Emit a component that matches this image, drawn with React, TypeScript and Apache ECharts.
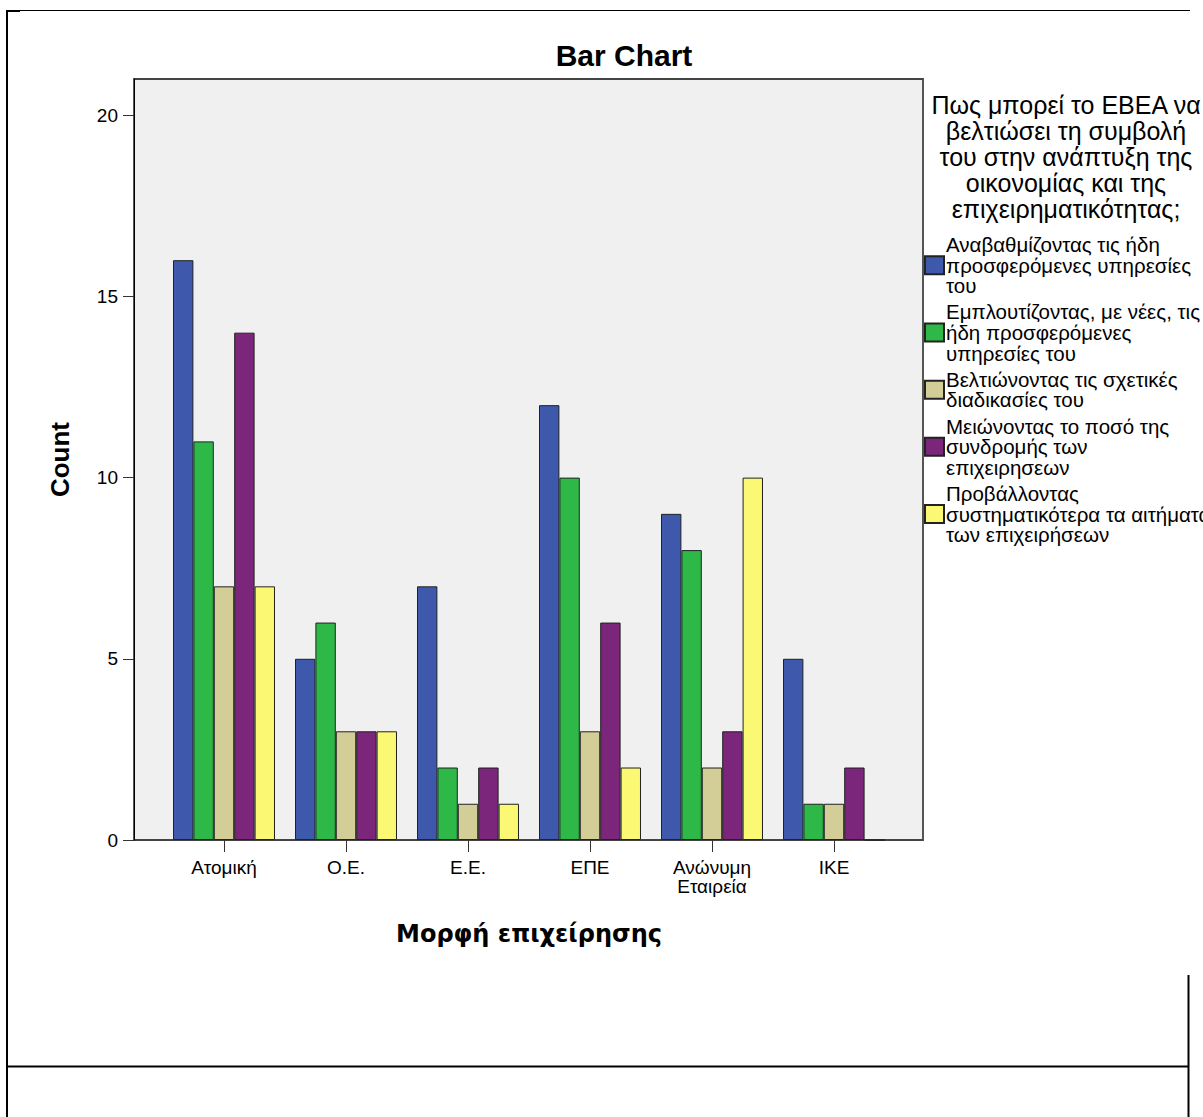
import React, { useEffect, useRef } from "react";
import * as echarts from "echarts";

const categories = ["Ατομική", "Ο.Ε.", "Ε.Ε.", "ΕΠΕ", "Ανώνυμη\nΕταιρεία", "ΙΚΕ"];

const seriesNames = [
  "Αναβαθμίζοντας τις ήδη προσφερόμενες υπηρεσίες του",
  "Εμπλουτίζοντας, με νέες, τις ήδη προσφερόμενες υπηρεσίες του",
  "Βελτιώνοντας τις σχετικές διαδικασίες του",
  "Μειώνοντας το ποσό της συνδρομής των επιχειρήσεων",
  "Προβάλλοντας συστηματικότερα τα αιτήματα των επιχειρήσεων",
];

const legendLabels = [
  "Αναβαθμίζοντας τις ήδη\nπροσφερόμενες υπηρεσίες\nτου",
  "Εμπλουτίζοντας, με νέες, τις\nήδη προσφερόμενες\nυπηρεσίες του",
  "Βελτιώνοντας τις σχετικές\nδιαδικασίες του",
  "Μειώνοντας το ποσό της\nσυνδρομής των\nεπιχειρησεων",
  "Προβάλλοντας\nσυστηματικότερα τα αιτήματα\nτων επιχειρήσεων",
];

const upgrading = [16, 5, 7, 12, 9, 5];
const enriching = [11, 6, 2, 10, 8, 1];
const improving = [7, 3, 1, 3, 2, 1];
const reducing = [14, 3, 2, 6, 3, 2];
const promoting = [7, 3, 1, 2, 10, 0];

const seriesValues = [upgrading, enriching, improving, reducing, promoting];
const seriesColors = ["#3e58ac", "#2eb848", "#d3ce97", "#7b267b", "#fbf873"];

const yTicks = [0, 5, 10, 15, 20];

const legendTitle =
  "Πως μπορεί το ΕΒΕΑ να\nβελτιώσει τη συμβολή\nτου στην ανάπτυξη της\nοικονομίας και της\nεπιχειρηματικότητας;";

const FONT = "'Liberation Sans', Arial, sans-serif";

export default function App() {
  const ref = useRef<HTMLDivElement>(null);

  useEffect(() => {
    if (!ref.current) return;
    const chart = echarts.init(ref.current, undefined, { renderer: "svg" });
    const labelMap: Record<string, string> = {};
    seriesNames.forEach((n, i) => (labelMap[n] = legendLabels[i]));

    chart.setOption({
      animation: false,
      backgroundColor: "#ffffff",
      textStyle: { fontFamily: FONT },
      title: {
        text: "Bar Chart",
        left: 619,
        top: 35,
        textAlign: "center",
        textStyle: { fontFamily: FONT, fontWeight: "bold", fontSize: 30, color: "#000" },
      },
      grid: {
        left: 163,
        top: 79,
        width: 732,
        height: 761,
      },
      legend: {
        orient: "vertical",
        left: 924,
        top: 234,
        padding: 0,
        itemWidth: 19,
        itemHeight: 18,
        itemGap: 5,
        icon: "rect",
        formatter: (name: string) => labelMap[name] || name,
        textStyle: { fontFamily: FONT, fontSize: 20.5, lineHeight: 20.7, color: "#000", padding: [0, 0, 0, -3] },
        data: seriesNames,
      },
      xAxis: {
        type: "category",
        data: categories,
        name: "Μορφή επιχείρησης",
        nameLocation: "middle",
        nameGap: 82,
        nameTextStyle: { fontFamily: "'DejaVu Sans', sans-serif", fontWeight: "bold", fontSize: 24, color: "#000" },
        axisLine: { show: false },
        axisTick: { show: true, alignWithLabel: true, length: 12, lineStyle: { color: "#333" } },
        axisLabel: { fontFamily: FONT, fontSize: 19, lineHeight: 19, color: "#000", margin: 18, interval: 0 },
      },
      yAxis: {
        type: "value",
        min: 0,
        max: 21,
        interval: 5,
        offset: 29,
        name: "Count",
        nameLocation: "middle",
        nameGap: 61,
        nameTextStyle: { fontFamily: FONT, fontWeight: "bold", fontSize: 26, color: "#000" },
        axisLine: { show: true, lineStyle: { color: "#000", width: 1 } },
        axisTick: { show: true, length: 11, customValues: yTicks, lineStyle: { color: "#333" } },
        axisLabel: { fontFamily: FONT, fontSize: 19, color: "#000", margin: 16, customValues: yTicks },
        splitLine: { show: false },
      },
      series: seriesNames.map((name, i) => ({
        name,
        type: "bar",
        data: seriesValues[i],
        barGap: "0%",
        barCategoryGap: "16.4%",
        itemStyle: { color: seriesColors[i], borderColor: "#222", borderWidth: 1 },
      })),
      graphic: [
        {
          type: "rect",
          z: -10,
          shape: { x: 134, y: 79, width: 789, height: 761 },
          style: { fill: "#f0f0f0", stroke: "#444", lineWidth: 1.8 },
        },
        {
          type: "text",
          x: 1066,
          y: 92,
          style: {
            text: legendTitle,
            x: 0,
            y: 0,
            textAlign: "center",
            textVerticalAlign: "top",
            fontFamily: FONT,
            fontSize: 25,
            lineHeight: 26,
            fill: "#000",
          },
        },
        { type: "line", shape: { x1: 6, y1: 10.5, x2: 1190, y2: 10.5 }, style: { stroke: "#000", lineWidth: 1 } },
        { type: "line", shape: { x1: 6, y1: 11, x2: 20, y2: 11 }, style: { stroke: "#000", lineWidth: 2 } },
        { type: "line", shape: { x1: 7, y1: 10, x2: 7, y2: 1117 }, style: { stroke: "#000", lineWidth: 2 } },
        { type: "line", shape: { x1: 1188.5, y1: 975, x2: 1188.5, y2: 1117 }, style: { stroke: "#000", lineWidth: 2 } },
        { type: "line", shape: { x1: 7, y1: 1066.5, x2: 1188, y2: 1066.5 }, style: { stroke: "#000", lineWidth: 2 } },
      ],
    });
    return () => chart.dispose();
  }, []);

  return (
    <div
      ref={ref}
      style={{ position: "fixed", left: 0, top: 0, width: 1203, height: 1117 }}
    />
  );
}
